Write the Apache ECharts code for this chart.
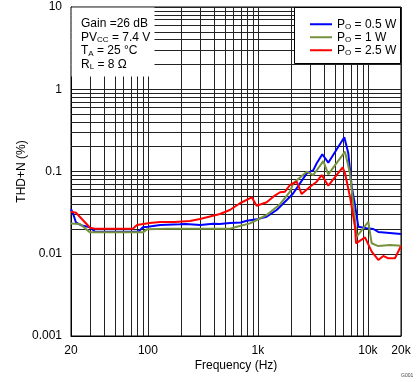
<!DOCTYPE html>
<html>
<head>
<meta charset="utf-8">
<script src="https://cdn.jsdelivr.net/npm/echarts@6/dist/echarts.min.js"></script>
<style>
html,body{margin:0;padding:0;background:#fff;}
#chart{width:419px;height:382px;}
</style>
</head>
<body>
<div id="chart"></div>
<script>
// ---- data (frequency Hz, THD+N %) ----
var blue05W = [[20,0.035],[21,0.030],[22.2,0.024],[25,0.022],[29.8,0.021],[33,0.0185],[50,0.0185],[75,0.0185],[82,0.0185],[90,0.021],[100,0.0213],[130,0.0224],[196,0.0228],[220,0.023],[300,0.0224],[391,0.0232],[450,0.023],[557,0.0236],[700,0.024],[791,0.0252],[975,0.0262],[1200,0.0282],[1482,0.034],[1958,0.0494],[2098,0.0543],[2779,0.095],[3191,0.104],[3426,0.126],[3850,0.162],[4366,0.128],[6106,0.261],[6638,0.1665],[7127,0.0653],[7636,0.0392],[8183,0.0213],[9751,0.0204],[11200,0.02],[12430,0.0184],[20000,0.0174]];
var green1W = [[20,0.0234],[24.1,0.023],[29.8,0.0182],[50,0.0182],[90.3,0.0182],[98,0.0198],[150,0.0202],[300,0.0202],[560,0.0202],[645,0.0213],[848,0.0234],[1202,0.0296],[1589,0.040],[1958,0.0568],[2098,0.0719],[2779,0.0995],[3191,0.0906],[3934,0.134],[4366,0.0925],[6195,0.174],[6875,0.095],[7636,0.0257],[7912,0.0161],[10090,0.0245],[10830,0.0134],[12430,0.0124],[15890,0.0128],[20000,0.0125]];
var red25W = [[20,0.0324],[22.2,0.0315],[29.8,0.0207],[33,0.0202],[73,0.0202],[79.6,0.0224],[104,0.0236],[129,0.0243],[176,0.0243],[241,0.025],[298,0.0264],[452,0.0304],[557,0.034],[687,0.0411],[879,0.0486],[975,0.0384],[1202,0.0422],[1381,0.0494],[1589,0.0560],[1763,0.0568],[1958,0.0685],[2254,0.0752],[2501,0.0532],[2978,0.0653],[3426,0.0752],[3803,0.0906],[4366,0.0672],[5900,0.112],[6195,0.095],[6875,0.0494],[7636,0.0213],[7800,0.0134],[9414,0.0158],[10830,0.0106],[12430,0.0084],[13800,0.0094],[15340,0.0088],[17630,0.0088],[20000,0.0124]];

var seriesNames = ['P_O = 0.5 W','P_O = 1 W','P_O = 2.5 W'];
var legendLabels = ['{a|P}{s|O}{a| = 0.5 W}','{a|P}{s|O}{a| = 1 W}','{a|P}{s|O}{a| = 2.5 W}'];
var seriesColors = ['#0000FF','#76923C','#FF0000'];

var xMinorLines = [30,40,50,60,70,80,90,200,300,400,500,600,700,800,900,2000,3000,4000,5000,6000,7000,8000,9000];
var yMinorLines = [0.002,0.003,0.004,0.005,0.006,0.007,0.008,0.009,0.02,0.03,0.04,0.05,0.06,0.07,0.08,0.09,0.2,0.3,0.4,0.5,0.6,0.7,0.8,0.9,2,3,4,5,6,7,8,9];
var xTickLabels = {20:'20',100:'100',1000:'1k',10000:'10k',20000:'20k'};
var yTickLabels = {0.001:'0.001',0.01:'0.01',0.1:'0.1',1:'1',10:'10'};
var annotation = ['{a|Gain =26 dB}','{a|PV}{s|CC}{a| = 7.4 V}','{a|T}{s|A}{a| = 25 °C}','{a|R}{s|L}{a| = 8 Ω}'];

var FONT = '"Liberation Sans", Arial, sans-serif';
var richText = {
  a:{fontFamily:FONT,fontSize:12,color:'#000',lineHeight:13.5},
  s:{fontFamily:FONT,fontSize:8,color:'#000',lineHeight:13.5,verticalAlign:'bottom',padding:[5,0,0,0]}
};

function lookup(map, v){
  for (var k in map){ if (Math.abs(Math.log10(+k) - Math.log10(v)) < 1e-6) return map[k]; }
  return '';
}

var chart = echarts.init(document.getElementById('chart'), null, {renderer:'canvas'});
var gridLineStyle = {color:'#222',width:1,type:'solid'};

var series = [{
  type:'line', name:'__grid', data:[], silent:true, z:1,
  markLine:{
    silent:true, symbol:'none', z:1, animation:false,
    label:{show:false},
    lineStyle:gridLineStyle,
    emphasis:{disabled:true},
    data: xMinorLines.map(function(v){return {xAxis:v};}).concat(yMinorLines.map(function(v){return {yAxis:v};}))
  }
}];
[blue05W, green1W, red25W].forEach(function(d,i){
  series.push({
    type:'line', name:seriesNames[i], data:d, showSymbol:false, symbol:'none', z:3,
    lineStyle:{color:seriesColors[i], width:2}, itemStyle:{color:seriesColors[i]},
    animation:false
  });
});

chart.setOption({
  animation:false,
  grid:{left:71,right:18,top:7,bottom:46,show:true,borderColor:'#000',borderWidth:1,backgroundColor:'transparent'},
  xAxis:{
    type:'log', logBase:10, min:20, max:20000,
    name:'Frequency (Hz)', nameLocation:'middle', nameGap:24, nameMoveOverlap:false,
    nameTextStyle:{fontFamily:FONT,fontSize:12,color:'#000'},
    axisLine:{show:true,lineStyle:{color:'#000',width:1}},
    axisTick:{show:false},
    axisLabel:{fontFamily:FONT,fontSize:12,color:'#000',margin:9,showMinLabel:true,showMaxLabel:true,
      formatter:function(v){return lookup(xTickLabels,v);}},
    splitLine:{show:true,lineStyle:gridLineStyle}
  },
  yAxis:{
    type:'log', logBase:10, min:0.001, max:10,
    name:'THD+N (%)', nameLocation:'middle', nameGap:43, nameRotate:90, nameMoveOverlap:false,
    nameTextStyle:{fontFamily:FONT,fontSize:12,color:'#000'},
    axisLine:{show:true,lineStyle:{color:'#000',width:1}},
    axisTick:{show:false},
    axisLabel:{fontFamily:FONT,fontSize:12,color:'#000',margin:9,
      formatter:function(v){return lookup(yTickLabels,v);}},
    splitLine:{show:true,lineStyle:gridLineStyle}
  },
  legend:{
    orient:'vertical', left:305, top:13, itemWidth:22, itemHeight:2, itemGap:0,
    icon:'rect', data:seriesNames,
    formatter:function(n){return legendLabels[seriesNames.indexOf(n)];},
    textStyle:{fontFamily:FONT,fontSize:12,color:'#000',rich:richText},
    selectedMode:false
  },
  graphic:[
    {type:'rect', z:3, shape:{x:71.5,y:7.5,width:83,height:69}, style:{fill:'#fff',stroke:null}},
    {type:'rect', z:3, shape:{x:294.5,y:7.5,width:106,height:56}, style:{fill:'#fff',stroke:'#000',lineWidth:1}},
    {type:'text', z:4, left:81, top:18, style:{text:annotation.join('\n'),rich:richText,font:'12px '+FONT,fill:'#000'}},
    {type:'text', z:4, left:401, top:373, style:{text:'G001',font:'5px '+FONT,fill:'#444'}}
  ],
  series:series
});
</script>
</body>
</html>
